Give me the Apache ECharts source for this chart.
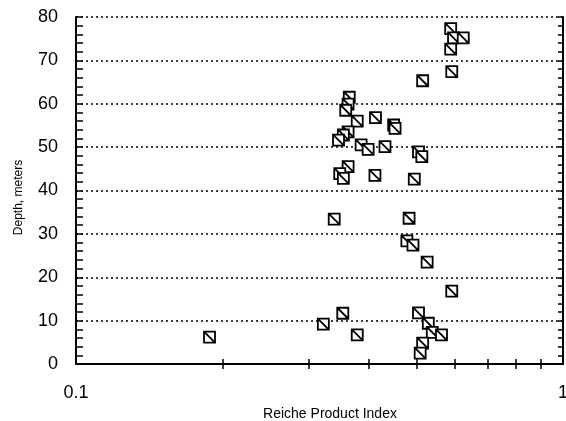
<!DOCTYPE html>
<html>
<head>
<meta charset="utf-8">
<script src="https://cdn.jsdelivr.net/npm/echarts@6/dist/echarts.min.js"></script>
<style>
  html, body { margin: 0; padding: 0; background: #fff; }
  #chart { width: 566px; height: 421px; }
</style>
</head>
<body>
<div id="chart"></div>
<script>
// Reiche Product Index vs depth
var rpi = [0.188, 0.322, 0.353, 0.378, 0.339, 0.483, 0.478, 0.492, 0.526, 0.591,
           0.505, 0.529, 0.539, 0.563, 0.515, 0.509, 0.588, 0.596, 0.624, 0.588,
           0.591, 0.515, 0.364, 0.362, 0.358, 0.378, 0.412, 0.449, 0.452, 0.362,
           0.354, 0.346, 0.385, 0.398, 0.431, 0.505, 0.513, 0.362, 0.348, 0.354,
           0.411, 0.495];
var depth = [6.2, 9.2, 11.7, 6.7, 33.4, 33.6, 28.4, 27.4, 23.5, 16.8,
             11.8, 9.4, 7.3, 6.7, 4.8, 2.5, 77.3, 75.2, 75.2, 72.6,
             67.4, 65.3, 61.5, 59.9, 58.5, 56.0, 56.8, 55.1, 54.3, 53.5,
             52.8, 51.6, 50.5, 49.5, 50.1, 48.9, 47.8, 45.5, 43.9, 42.8,
             43.5, 42.6];
var xTicks = [0.2, 0.3, 0.4, 0.5, 0.6, 0.7, 0.8, 0.9];

var chart = echarts.init(document.getElementById('chart'));
var font = 'Liberation Sans, Arial, Helvetica, sans-serif';

var points = rpi.map(function (v, i) { return [v, depth[i]]; });

var option = {
  animation: false,
  backgroundColor: '#fff',
  grid: { left: 76, right: 3, top: 17, bottom: 57, outerBoundsMode: 'none' },
  xAxis: [
    {
      type: 'log', logBase: 10, min: 0.1, max: 1, position: 'bottom',
      name: 'Reiche Product Index', nameLocation: 'middle', nameGap: 40,
      nameTextStyle: { color: '#000', fontSize: 14, fontFamily: font, padding: [0, 0, 0, 21] },
      axisLine: { show: true, lineStyle: { color: '#000', width: 2 } },
      axisTick: { show: true, inside: true, length: 5, customValues: xTicks, lineStyle: { color: '#000', width: 1.5 } },
      axisLabel: { color: '#000', fontSize: 18, fontFamily: font, margin: 20 },
      splitLine: { show: false }
    },
    {
      type: 'log', logBase: 10, min: 0.1, max: 1, position: 'top',
      axisLine: { show: true, lineStyle: { color: '#000', width: 2 } },
      axisTick: { show: true, inside: true, length: 5, customValues: xTicks, lineStyle: { color: '#000', width: 1.5 } },
      axisLabel: { show: false },
      splitLine: { show: false }
    }
  ],
  yAxis: [
    {
      type: 'value', min: 0, max: 80, interval: 10, position: 'left',
      name: 'Depth, meters', nameLocation: 'middle', nameGap: 51,
      nameTextStyle: { color: '#000', fontSize: 12, fontFamily: font, padding: [0, 14, 0, 0] },
      axisLine: { show: true, lineStyle: { color: '#000', width: 2 } },
      axisTick: { show: true, inside: true, length: 7, lineStyle: { color: '#000', width: 1.5 } },
      minorTick: { show: true, splitNumber: 5, length: 7, lineStyle: { color: '#000', width: 1.5 } },
      axisLabel: { color: '#000', fontSize: 18, fontFamily: font, margin: 18 },
      splitLine: { show: true, lineStyle: { color: '#000', width: 1.6, type: [2, 3] } }
    },
    {
      type: 'value', min: 0, max: 80, interval: 10, position: 'right',
      axisLine: { show: true, lineStyle: { color: '#000', width: 2 } },
      axisTick: { show: true, inside: true, length: 5, lineStyle: { color: '#000', width: 1.5 } },
      minorTick: { show: true, splitNumber: 5, length: 5, lineStyle: { color: '#000', width: 1.5 } },
      axisLabel: { show: false },
      splitLine: { show: false }
    }
  ],
  series: [
    {
      type: 'scatter',
      xAxisIndex: 0,
      yAxisIndex: 0,
      data: points,
      symbol: 'path://M0,0H10V10H0ZM0,0L10,10',
      symbolSize: 11,
      itemStyle: { color: '#fff', borderColor: '#000', borderWidth: 1.8, opacity: 1 }
    }
  ]
};

chart.setOption(option);
</script>
</body>
</html>
